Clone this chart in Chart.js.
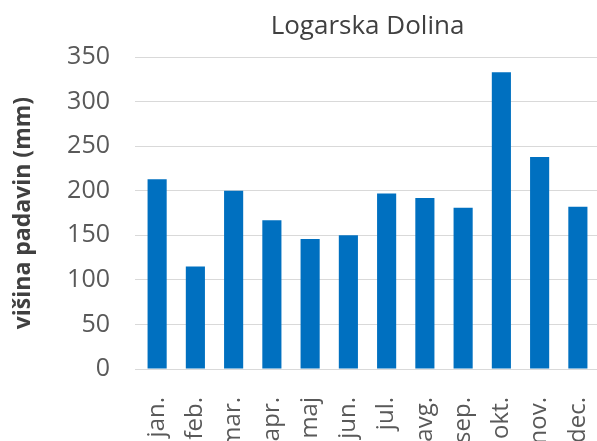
<!DOCTYPE html>
<html>
<head>
<meta charset="utf-8">
<script src="https://cdn.jsdelivr.net/npm/chart.js@4"></script>
<style>
  html, body { margin: 0; padding: 0; background: #fff; }
  #wrap { width: 597px; height: 441px; }
</style>
</head>
<body>
<div id="wrap"><canvas id="graf"></canvas></div>
<script>
// Mesečna višina padavin
const meseci = ["jan.", "feb.", "mar.", "apr.", "maj", "jun.", "jul.", "avg.", "sep.", "okt.", "nov.", "dec."];
const padavine = [213, 115, 200, 167, 146, 150, 197, 192, 181, 333, 238, 182];
const yTicks = [0, 50, 100, 150, 200, 250, 300, 350];

const pisava = "'Open Sans', sans-serif";
const siva = "#595959";

new Chart(document.getElementById("graf"), {
  type: "bar",
  data: {
    labels: meseci,
    datasets: [{
      label: "Padavine",
      data: padavine,
      backgroundColor: "#0070c0",
      barPercentage: 0.5,
      categoryPercentage: 1.0
    }]
  },
  options: {
    responsive: true,
    maintainAspectRatio: false,
    animation: false,
    layout: { padding: { left: 0, right: 0, top: 0, bottom: 0 } },
    plugins: {
      legend: { display: false },
      tooltip: { enabled: false },
      title: {
        display: true,
        text: "Logarska Dolina",
        fullSize: false,
        color: "#404040",
        font: { family: pisava, size: 26, weight: "normal" },
        padding: { top: 11, bottom: 15 }
      }
    },
    scales: {
      x: {
        grid: { display: false },
        border: { color: "#d9d9d9" },
        ticks: {
          color: siva,
          font: { family: pisava, size: 24 },
          minRotation: 90,
          maxRotation: 90,
          padding: 20,
          autoSkip: false
        },
        afterFit: (s) => { s.height = 72; s.paddingLeft = 0; s.paddingRight = 0; }
      },
      y: {
        min: 0,
        max: 350,
        afterBuildTicks: (s) => { s.ticks = yTicks.map(v => ({ value: v })); },
        grid: { color: "#d9d9d9", tickLength: 3, tickColor: "#d9d9d9" },
        border: { display: false },
        ticks: {
          color: siva,
          font: { family: pisava, size: 25 },
          padding: 25
        },
        title: {
          display: true,
          text: "višina padavin (mm)",
          color: "#404040",
          font: { family: pisava, size: 23, weight: "bold" },
          padding: { top: 10, bottom: 0 }
        },
        afterFit: (s) => { s.width = 138; }
      }
    }
  }
});
</script>
</body>
</html>
